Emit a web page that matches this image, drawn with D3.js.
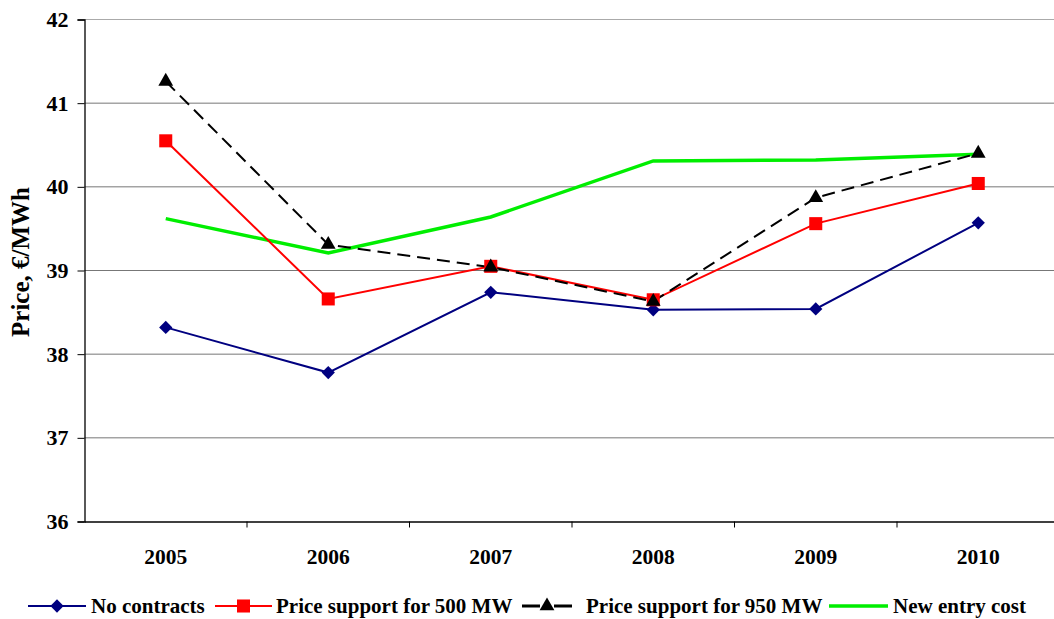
<!DOCTYPE html>
<html><head><meta charset="utf-8">
<script src="https://cdn.jsdelivr.net/npm/d3@7"></script>
<style>body{margin:0;background:#fff}svg{display:block}</style>
</head><body><svg id="c" width="1054" height="619"></svg>
<script>
const years = ["2005","2006","2007","2008","2009","2010"];
const noContracts = [38.32, 37.78, 38.74, 38.53, 38.54, 39.57];
const support500 = [40.55, 38.66, 39.05, 38.65, 39.56, 40.04];
const support950 = [41.26, 39.31, 39.04, 38.63, 39.87, 40.40];
const newEntry = [39.62, 39.21, 39.64, 40.31, 40.32, 40.39];
const yTicks = [36, 37, 38, 39, 40, 41, 42];
const seriesNames = ["No contracts", "Price support for 500 MW", "Price support for 950 MW", "New entry cost"];

const FONT = '"Liberation Serif", "Times New Roman", serif';
const svg = d3.select("#c");
const L = 84.5, R = 1059.5, T = 19.5, B = 521.5;
const x = d3.scaleBand().domain(years).range([L, R]);
const y = d3.scaleLinear().domain([36, 42]).range([B, T]);

// gridlines
svg.append("g").selectAll("line").data(yTicks.filter(d => d > 36)).join("line")
  .attr("x1", L).attr("x2", R).attr("y1", d => y(d)).attr("y2", d => y(d))
  .attr("stroke", d => d === 42 ? "#aaa" : "#777").attr("stroke-width", 1);

// y axis
const ya = svg.append("g").attr("transform", `translate(${L},0)`)
  .call(d3.axisLeft(y).tickValues(yTicks).tickSize(7).tickPadding(9).tickFormat(d3.format("d")));
ya.select(".domain").attr("stroke", "#000").attr("stroke-width", 1.3);
ya.selectAll(".tick line").attr("stroke", "#000");
ya.selectAll("text").style("font-family", FONT).style("font-weight", "bold").style("font-size", "22px").attr("fill", "#000");

// x axis
const xa = svg.append("g").attr("transform", `translate(0,${B})`)
  .call(d3.axisBottom(x).tickSize(0).tickPadding(27));
xa.select(".domain").attr("stroke", "#000").attr("stroke-width", 1.3);
xa.selectAll("text").style("font-family", FONT).style("font-weight", "bold").style("font-size", "21.5px").attr("fill", "#000");
// category separator ticks
svg.append("g").selectAll("line").data(years.slice(1)).join("line")
  .attr("x1", d => x(d)).attr("x2", d => x(d)).attr("y1", B).attr("y2", B + 6)
  .attr("stroke", "#000");

// y title
svg.append("text").attr("transform", `translate(29,${262}) rotate(-90)`)
  .attr("text-anchor", "middle")
  .style("font-family", FONT).style("font-weight", "bold").style("font-size", "25px")
  .text("Price, €/MWh");

const cx = d => x(d) + x.bandwidth() / 2;
const lineGen = vals => d3.line().x((d, i) => cx(years[i])).y(d => y(d))(vals);

const series = [
  {name: seriesNames[0], vals: noContracts, color: "#000080", w: 2, dash: null, marker: "diamond"},
  {name: seriesNames[1], vals: support500, color: "#ff0000", w: 2, dash: null, marker: "square"},
  {name: seriesNames[2], vals: support950, color: "#000000", w: 2, dash: "13,7", marker: "triangle"},
  {name: seriesNames[3], vals: newEntry, color: "#00ee00", w: 3.5, dash: null, marker: null},
];
const sym = {
  diamond: d3.symbol().type(d3.symbolDiamond2).size(112),
  square: d3.symbol().type(d3.symbolSquare).size(170),
  triangle: d3.symbol().type(d3.symbolTriangle).size(95)
};
const drawOrder = [3, 0, 1, 2];
drawOrder.forEach(k => {
  const s = series[k];
  svg.append("path").attr("d", lineGen(s.vals)).attr("fill", "none")
    .attr("stroke", s.color).attr("stroke-width", s.w).attr("stroke-dasharray", s.dash);
});
drawOrder.forEach(k => {
  const s = series[k];
  if (!s.marker) return;
  svg.append("g").selectAll("path").data(s.vals).join("path")
    .attr("d", sym[s.marker]())
    .attr("transform", (d, i) => `translate(${cx(years[i])},${y(d)})`)
    .attr("fill", s.color);
});

// legend
const legY = 606;
const leg = [
  {x1: 28, x2: 86, tx: 91},
  {x1: 215, x2: 272, tx: 276},
  {x1: 522, x2: 572, tx: 586},
  {x1: 829, x2: 888, tx: 893}
];
series.forEach((s, i) => {
  const g = svg.append("g");
  const l = leg[i];
  g.append("line").attr("x1", l.x1).attr("x2", l.x2).attr("y1", legY).attr("y2", legY)
    .attr("stroke", s.color).attr("stroke-width", s.dash ? 3 : s.w).attr("stroke-dasharray", s.dash ? "18,14" : null);
  if (s.marker) g.append("path").attr("d", sym[s.marker]())
    .attr("transform", `translate(${(l.x1 + l.x2) / 2},${legY})`).attr("fill", s.color);
  g.append("text").attr("x", l.tx).attr("y", legY).attr("dy", "0.35em")
    .style("font-family", FONT).style("font-weight", "bold").style("font-size", "21px")
    .text(s.name);
});
</script></body></html>
